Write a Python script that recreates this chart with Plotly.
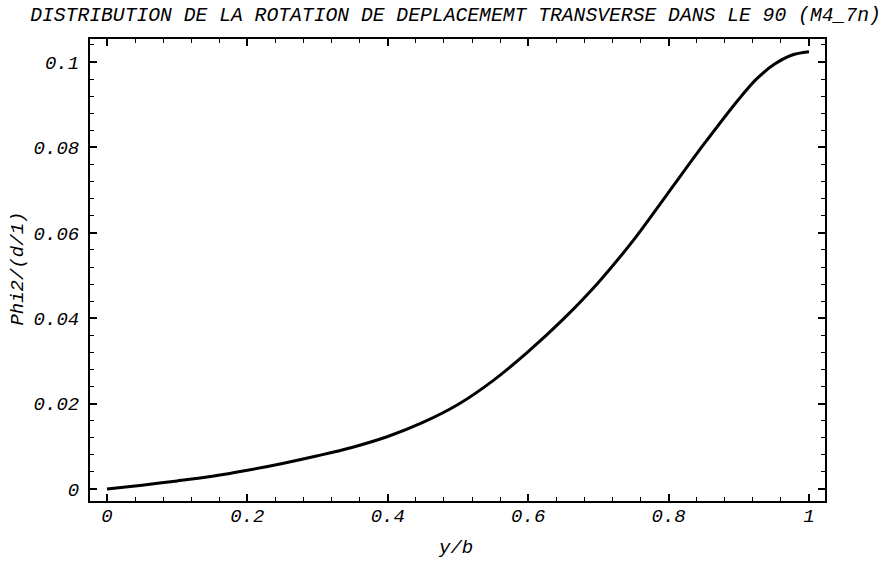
import plotly.graph_objects as go

# values
y_over_b = [0.0, 0.05, 0.1, 0.15, 0.2, 0.25, 0.3, 0.35, 0.4, 0.45, 0.5,
            0.55, 0.6, 0.65, 0.7, 0.75, 0.8, 0.85, 0.9, 0.925, 0.95,
            0.975, 1.0]
phi2 = [0.0, 0.0009, 0.0019, 0.003, 0.0044, 0.006, 0.0078, 0.0098, 0.0123,
        0.0156, 0.0198, 0.0254, 0.0322, 0.0398, 0.0484, 0.0583, 0.0695,
        0.0807, 0.0913, 0.0960, 0.0994, 0.1016, 0.1024]

x_ticks = [0, 0.2, 0.4, 0.6, 0.8, 1]
y_ticks = [0, 0.02, 0.04, 0.06, 0.08, 0.1]

FONT = "Liberation Mono, Courier New, monospace"

fig = go.Figure()
fig.add_trace(go.Scatter(
    x=y_over_b, y=phi2, mode="lines",
    line=dict(color="black", width=3, shape="spline", smoothing=0.9),
    hoverinfo="skip"
))

axis_common = dict(
    showgrid=False, zeroline=False, showline=True, linecolor="black",
    linewidth=2, mirror="ticks", ticks="inside", ticklen=7, tickwidth=1.5,
    tickcolor="black",
    tickfont=dict(family=FONT, size=19, color="black", style="italic"),
)

fig.update_layout(
    width=883, height=568,
    margin=dict(l=90, r=58, t=39, b=67),
    paper_bgcolor="white", plot_bgcolor="white",
    showlegend=False,
    title=dict(
        text="DISTRIBUTION DE LA ROTATION DE DEPLACEMEMT TRANSVERSE DANS LE 90 (M4_7n)",
        font=dict(family=FONT, size=19.7, color="black", style="italic"),
        x=0.5158, xanchor="center", y=0.976, yanchor="middle",
    ),
    xaxis=dict(
        range=[-0.0242, 1.0228], tickvals=x_ticks,
        minor=dict(ticks="inside", ticklen=4, tickwidth=1, tickcolor="black",
                   dtick=0.04, tick0=0),
        ticklabelstandoff=-4,
        **axis_common
    ),
    yaxis=dict(
        range=[-0.0028, 0.1054], tickvals=y_ticks,
        minor=dict(ticks="inside", ticklen=4, tickwidth=1, tickcolor="black",
                   dtick=0.004, tick0=0),
        ticklabelstandoff=5,
        **axis_common
    ),
)

fig.add_annotation(
    text="y/b", xref="paper", yref="paper", x=0.497, y=-0.102,
    xanchor="center", yanchor="middle", showarrow=False,
    font=dict(family=FONT, size=19, color="black", style="italic"),
)
fig.add_annotation(
    text="Phi2/(d/1)", xref="paper", yref="paper", x=-0.098, y=0.503,
    xanchor="center", yanchor="middle", showarrow=False, textangle=-90,
    font=dict(family=FONT, size=19, color="black", style="italic"),
)

# drop the default body margin so the figure sits at the page origin
fig.write_html("out.html", config={"displayModeBar": False},
               post_script="document.body.style.margin='0';")
